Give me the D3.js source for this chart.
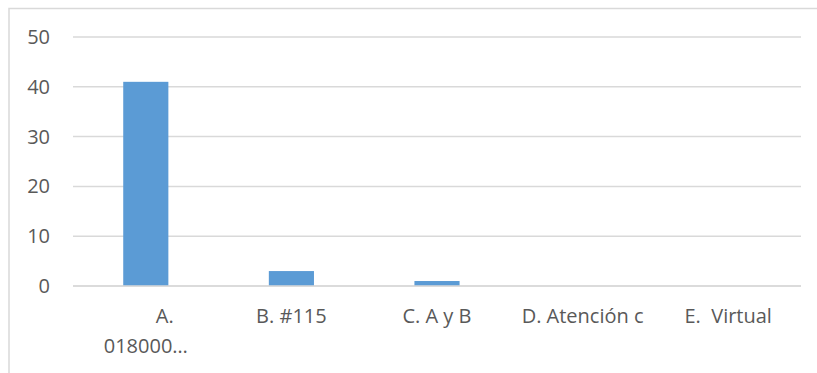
<!DOCTYPE html>
<html>
<head>
<meta charset="utf-8">
<script src="https://cdn.jsdelivr.net/npm/d3@7"></script>
<style>
  body { margin: 0; background: #fff; }
  svg { display: block; font-family: "Open Sans", sans-serif; }
</style>
</head>
<body>
<div id="chart"></div>
<script>
// Bar chart data
const categories = ["A", "B", "C", "D", "E"];
const labelLines = [["A.", "018000…"], ["B. #115"], ["C. A y B"], ["D. Atención c"], ["E.\u00a0 Virtual"]];
const values = [41, 3, 1, 0, 0];
const yTicks = [0, 10, 20, 30, 40, 50];

const width = 817, height = 373;
const margin = {top: 37, right: 16, bottom: 87, left: 73};

const svg = d3.select("#chart")
  .append("svg")
  .attr("width", width)
  .attr("height", height);

// chart frame
svg.append("rect")
  .attr("x", 9)
  .attr("y", 8.5)
  .attr("width", width)
  .attr("height", height)
  .attr("fill", "none")
  .attr("stroke", "#d9d9d9")
  .attr("stroke-width", 1.5);

const x = d3.scaleBand()
  .domain(categories)
  .range([margin.left, width - margin.right])
  .paddingInner(0.69)
  .paddingOuter(0.345);

const y = d3.scaleLinear()
  .domain([0, 50])
  .range([height - margin.bottom, margin.top]);

// Gridlines
svg.append("g")
  .selectAll("line")
  .data(yTicks)
  .enter()
  .append("line")
  .attr("x1", margin.left)
  .attr("x2", width - margin.right)
  .attr("y1", d => y(d))
  .attr("y2", d => y(d))
  .attr("stroke", "#d9d9d9")
  .attr("stroke-width", 1.5);

// Y labels
svg.append("g")
  .selectAll("text")
  .data(yTicks)
  .enter()
  .append("text")
  .attr("x", 50)
  .attr("y", d => y(d) + 7)
  .attr("text-anchor", "end")
  .attr("font-size", "20px")
  .attr("fill", "#595959")
  .text(d => d);

// Bars
svg.append("g")
  .selectAll("rect")
  .data(values)
  .enter()
  .append("rect")
  .attr("x", (d, i) => x(categories[i]))
  .attr("y", d => y(d))
  .attr("width", x.bandwidth())
  .attr("height", d => y(0) - y(d))
  .attr("fill", "#5b9bd5");

// Zero axis line drawn on top
svg.append("line")
  .attr("x1", margin.left)
  .attr("x2", width - margin.right)
  .attr("y1", y(0))
  .attr("y2", y(0))
  .attr("stroke", "#d9d9d9")
  .attr("stroke-width", 1.5);

// Category labels
const step = x.step();
const labels = svg.append("g")
  .selectAll("text")
  .data(labelLines)
  .enter()
  .append("text")
  .attr("x", (d, i) => x(categories[i]) + x.bandwidth() / 2)
  .attr("y", 323)
  .attr("text-anchor", "middle")
  .attr("font-size", "20px")
  .attr("fill", "#595959");

labels.selectAll("tspan")
  .data((d, i) => d.map((t, j) => ({t, j, i, n: d.length})))
  .enter()
  .append("tspan")
  .attr("x", d => x(categories[d.i]) + x.bandwidth() / 2 + (d.n > 1 && d.j === 0 ? 19 : 0))
  .attr("dy", d => d.j === 0 ? 0 : 30)
  .text(d => d.t);
</script>
</body>
</html>
